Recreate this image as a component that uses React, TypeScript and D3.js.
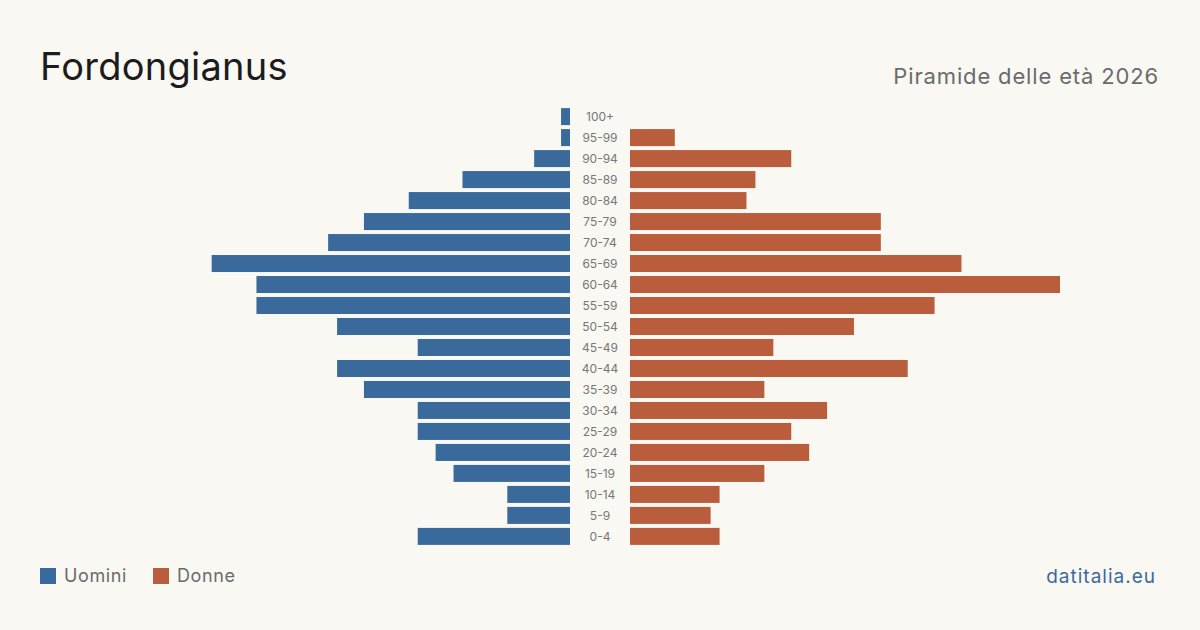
import { useEffect, useRef } from 'react'
import * as d3 from 'd3'

const ageGroups = ['100+', '95-99', '90-94', '85-89', '80-84', '75-79', '70-74', '65-69', '60-64', '55-59', '50-54', '45-49', '40-44', '35-39', '30-34', '25-29', '20-24', '15-19', '10-14', '5-9', '0-4']
const men = [1, 1, 4, 12, 18, 23, 27, 40, 35, 35, 26, 17, 26, 23, 17, 17, 15, 13, 7, 7, 17]
const women = [0, 5, 18, 14, 13, 28, 28, 37, 48, 34, 25, 16, 31, 15, 22, 18, 20, 15, 10, 9, 10]

const BLUE = '#3a6a9b'
const ORANGE = '#b95d3c'
const BG = '#f9f8f3'
const FONT = 'Inter, "Noto Sans", sans-serif'

export default function App() {
  const svgRef = useRef<SVGSVGElement>(null)

  useEffect(() => {
    if (!svgRef.current) return
    const svg = d3.select(svgRef.current)
    svg.selectAll('*').remove()

    const width = 1200
    const height = 630

    svg.append('rect').attr('width', width).attr('height', height).attr('fill', BG)

    svg.append('text')
      .attr('x', 40).attr('y', 80)
      .attr('font-family', FONT).attr('font-size', '38px')
      .attr('letter-spacing', '0.25px')
      .attr('fill', '#1c1c1c')
      .text('Fordongianus')

    svg.append('text')
      .attr('x', 1159).attr('y', 84)
      .attr('text-anchor', 'end')
      .attr('font-family', FONT).attr('font-size', '22px')
      .attr('letter-spacing', '0.85px')
      .attr('fill', '#6b6b6b')
      .text('Piramide delle età 2026')

    const y = d3.scaleBand<string>()
      .domain(ageGroups)
      .range([106, 547])
      .paddingInner(0.19)
      .paddingOuter(0.1)

    const leftEdge = 570
    const rightEdge = 630
    const xMax = 48
    const span = 430
    const xLeft = d3.scaleLinear().domain([0, xMax]).range([leftEdge, leftEdge - span])
    const xRight = d3.scaleLinear().domain([0, xMax]).range([rightEdge, rightEdge + span])

    svg.append('g').selectAll('rect')
      .data(ageGroups)
      .enter().append('rect')
      .attr('x', (_, i) => xLeft(men[i]))
      .attr('y', (d) => y(d)!)
      .attr('width', (_, i) => leftEdge - xLeft(men[i]))
      .attr('height', y.bandwidth())
      .attr('fill', BLUE)

    svg.append('g').selectAll('rect')
      .data(ageGroups)
      .enter().append('rect')
      .attr('x', rightEdge)
      .attr('y', (d) => y(d)!)
      .attr('width', (_, i) => xRight(women[i]) - rightEdge)
      .attr('height', y.bandwidth())
      .attr('fill', ORANGE)

    svg.append('g').selectAll('text')
      .data(ageGroups)
      .enter().append('text')
      .attr('x', 600)
      .attr('y', (d) => y(d)! + y.bandwidth() / 2)
      .attr('dy', '0.35em')
      .attr('text-anchor', 'middle')
      .attr('font-family', FONT).attr('font-size', '12px')
      .attr('fill', '#777')
      .text((d) => d)

    const legend = svg.append('g').attr('transform', 'translate(40,568)')
    legend.append('rect').attr('width', 16).attr('height', 16).attr('fill', BLUE)
    legend.append('text')
      .attr('x', 24).attr('y', 8).attr('dy', '0.35em')
      .attr('font-family', FONT).attr('font-size', '18px').attr('fill', '#6b6b6b')
      .attr('letter-spacing', '0.6px')
      .text('Uomini')
    legend.append('rect').attr('x', 113).attr('width', 16).attr('height', 16).attr('fill', ORANGE)
    legend.append('text')
      .attr('x', 137).attr('y', 8).attr('dy', '0.35em')
      .attr('font-family', FONT).attr('font-size', '18px').attr('fill', '#6b6b6b')
      .attr('letter-spacing', '0.6px')
      .text('Donne')

    svg.append('text')
      .attr('x', 1156).attr('y', 583)
      .attr('text-anchor', 'end')
      .attr('font-family', FONT).attr('font-size', '19px')
      .attr('letter-spacing', '1px')
      .attr('fill', BLUE)
      .text('datitalia.eu')
  }, [])

  return (
    <div style={{ position: 'absolute', left: 0, top: 0 }}>
      <svg ref={svgRef} width={1200} height={630} style={{ display: 'block' }}></svg>
    </div>
  )
}
